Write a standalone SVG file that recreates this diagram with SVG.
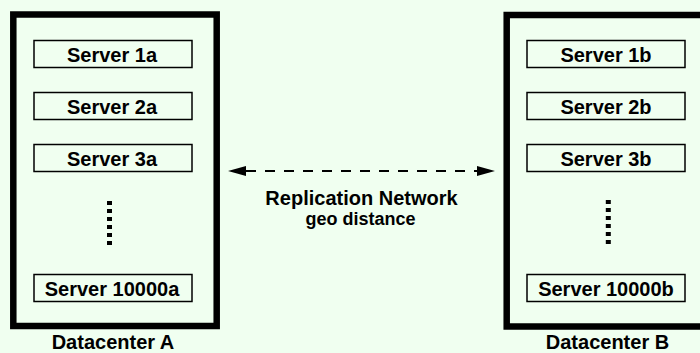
<svg xmlns="http://www.w3.org/2000/svg" width="700" height="353" viewBox="0 0 700 353">
<style>
text{font-family:"Liberation Sans",Arial,sans-serif;font-weight:bold;fill:#000;text-anchor:middle}
.dc{fill:none;stroke:#000;stroke-width:6.5}
.srv{fill:none;stroke:#000;stroke-width:1.5}
.st{font-size:20px}
.dots{stroke:#000;stroke-width:5;stroke-dasharray:4 4;fill:none}
.conn{stroke:#000;stroke-width:2;stroke-dasharray:10 9;fill:none}
</style>
<defs>
<marker id="ah" markerUnits="userSpaceOnUse" markerWidth="18" markerHeight="10" refX="0" refY="5" orient="auto-start-reverse">
<path d="M0,0 L18,5 L0,10 Z" fill="#000"/>
</marker>
</defs>
<rect width="700" height="353" fill="#f0fff0"/>
<g id="datacenter-a">
<rect class="dc" x="13.3" y="14.5" width="203.4" height="311.5"/>
<text x="113" y="349" style="font-size:20px">Datacenter A</text>
</g>
<g id="server-1a"><rect class="srv" x="34" y="40.5" width="158" height="27"/><text class="st" x="112" y="62">Server 1a</text></g>
<g id="server-2a"><rect class="srv" x="34" y="92.5" width="158" height="27"/><text class="st" x="112" y="114">Server 2a</text></g>
<g id="server-3a"><rect class="srv" x="34" y="144.5" width="158" height="27"/><text class="st" x="112" y="166">Server 3a</text></g>
<g id="ellipsis-a"><line class="dots" x1="109.5" y1="201" x2="109.5" y2="245"/></g>
<g id="server-10000a"><rect class="srv" x="34" y="274.5" width="158" height="27"/><text class="st" x="112" y="296">Server 10000a</text></g>
<g id="datacenter-b">
<rect class="dc" x="506.7" y="15" width="203.4" height="311.5"/>
<text x="607.5" y="349" style="font-size:20px">Datacenter B</text>
</g>
<g id="server-1b"><rect class="srv" x="527" y="40.5" width="158" height="27"/><text class="st" x="606" y="62">Server 1b</text></g>
<g id="server-2b"><rect class="srv" x="527" y="92.5" width="158" height="27"/><text class="st" x="606" y="114">Server 2b</text></g>
<g id="server-3b"><rect class="srv" x="527" y="144.5" width="158" height="27"/><text class="st" x="606" y="166">Server 3b</text></g>
<g id="ellipsis-b"><line class="dots" x1="608.3" y1="200" x2="608.3" y2="244"/></g>
<g id="server-10000b"><rect class="srv" x="527" y="274.5" width="158" height="27"/><text class="st" x="606" y="296">Server 10000b</text></g>
<g id="connectors">
<line class="conn" x1="246" y1="171" x2="477" y2="171" marker-start="url(#ah)" marker-end="url(#ah)"/>
<text x="361.5" y="205" style="font-size:20px">Replication Network</text>
<text x="360.5" y="224.5" style="font-size:18px">geo distance</text>
</g>
</svg>
